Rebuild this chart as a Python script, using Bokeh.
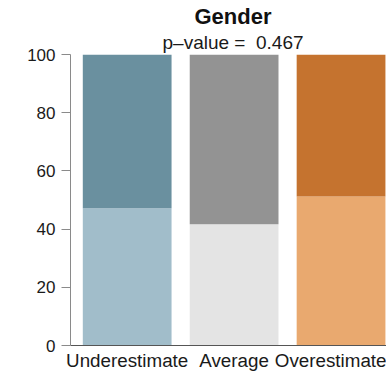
from bokeh.plotting import figure
from bokeh.models import Range1d, FixedTicker, Title, ColumnDataSource
from bokeh.embed import file_html
from bokeh.resources import INLINE

# ---- data ----
categories = ["Underestimate", "Average", "Overestimate"]
lower_share = [47.2, 41.7, 51.2]   # light (bottom) segment, %
upper_share = [52.8, 58.3, 48.8]   # dark (top) segment, %
lower_colors = ["#A1BDCA", "#E4E4E4", "#E9A96F"]
upper_colors = ["#6A909F", "#939393", "#C5732F"]
y_ticks = [0, 20, 40, 60, 80, 100]
title_text = "Gender"
subtitle_text = "p\u2013value =\u00a0\u00a00.467"

FONT = "Liberation Sans"

xs = list(range(len(categories)))
upper_top = [a + b for a, b in zip(lower_share, upper_share)]

src = ColumnDataSource(dict(
    x=xs, lb=[0] * len(xs), lt=lower_share, ub=lower_share, ut=upper_top,
    lc=lower_colors, uc=upper_colors,
))

p = figure(width=386, height=374, output_backend="svg", toolbar_location=None,
           x_range=Range1d(-0.53, 2.425), y_range=Range1d(0, 100),
           min_border_left=70, min_border_right=0, min_border_top=54, min_border_bottom=29)

p.vbar(x="x", bottom="lb", top="lt", width=0.83, fill_color="lc", line_color=None, source=src)
p.vbar(x="x", bottom="ub", top="ut", width=0.83, fill_color="uc", line_color=None, source=src)

p.outline_line_color = None
p.xgrid.visible = False
p.ygrid.visible = False
p.background_fill_color = "white"
p.border_fill_color = "white"

# y axis
ya = p.yaxis[0]
ya.ticker = FixedTicker(ticks=y_ticks)
ya.axis_line_color = "#8a8a8a"
ya.major_tick_line_color = "#8a8a8a"
ya.major_tick_out = 9
ya.major_tick_in = 0
ya.minor_tick_line_color = None
ya.minor_tick_out = 0
ya.minor_tick_in = 0
ya.major_label_text_font = FONT
ya.major_label_text_font_size = "17px"
ya.major_label_text_color = "#1a1a1a"
ya.major_label_standoff = 6

# x axis
xa = p.xaxis[0]
xa.ticker = FixedTicker(ticks=xs)
xa.major_label_overrides = {i: c for i, c in zip(xs, categories)}
xa.axis_line_color = "#555555"
xa.major_tick_line_color = None
xa.major_tick_out = 0
xa.major_tick_in = 0
xa.minor_tick_line_color = None
xa.minor_tick_out = 0
xa.minor_tick_in = 0
xa.major_label_text_font = FONT
xa.major_label_text_font_size = "18.8px"
xa.major_label_text_color = "#1a1a1a"
xa.major_label_standoff = 4

# titles (added bottom-most first)
sub = Title(text=subtitle_text, align="left", offset=92, text_font=FONT, text_font_size="19px",
            text_font_style="normal", text_color="#1a1a1a", standoff=3)
p.add_layout(sub, "above")
ttl = Title(text=title_text, align="left", offset=124, text_font=FONT, text_font_size="22px",
            text_font_style="bold", text_color="#111111", standoff=0)
p.add_layout(ttl, "above")

open("out.html", "w").write(file_html(p, INLINE))
